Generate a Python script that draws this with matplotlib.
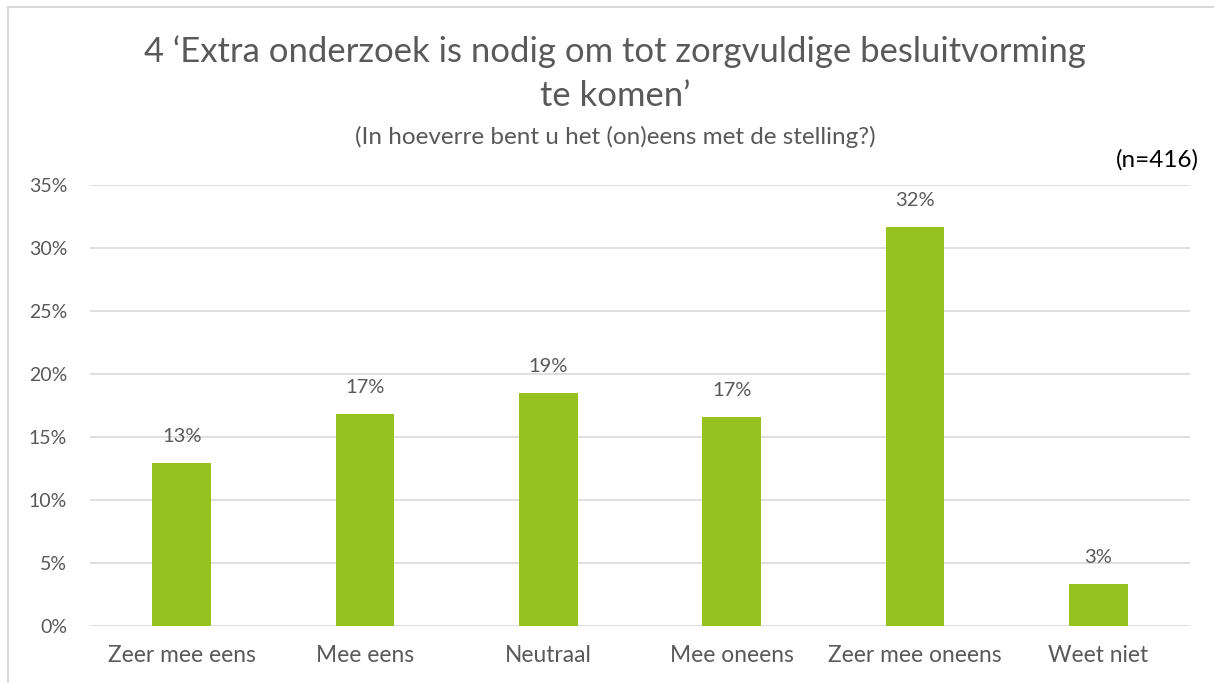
import matplotlib.pyplot as plt
from matplotlib.patches import Rectangle

categories = ['Zeer mee eens', 'Mee eens', 'Neutraal', 'Mee oneens', 'Zeer mee oneens', 'Weet niet']
values = [12.9, 16.8, 18.5, 16.6, 31.7, 3.3]
labels = ['13%', '17%', '19%', '17%', '32%', '3%']
yticks = [0, 5, 10, 15, 20, 25, 30, 35]

grey = '#595959'
green = '#97c11f'

plt.rcParams['font.family'] = ['Lato', 'DejaVu Sans']

fig = plt.figure(figsize=(12.14, 6.83), dpi=100)
ax = fig.add_axes([90/1214, 1-626/683, 1100/1214, 441/683])

x = range(len(categories))
ax.bar(x, values, width=0.32, color=green, zorder=3)
for i, (v, lab) in enumerate(zip(values, labels)):
    ax.annotate(lab, (i, v), xytext=(0, 13), textcoords='offset points',
                ha='center', va='bottom', fontsize=14.5, color=grey)

ax.set_xlim(-0.5, len(categories) - 0.5)
ax.set_ylim(0, 35)
ax.set_yticks(yticks)
ax.set_yticklabels([f'{t}%' for t in yticks])
ax.set_xticks(list(x))
ax.set_xticklabels(categories)
ax.tick_params(axis='both', length=0, colors=grey)
ax.tick_params(axis='x', pad=14, labelsize=16.4)
ax.tick_params(axis='y', pad=16.5, labelsize=14)
ax.grid(axis='y', color='#d9d9d9', linewidth=1.2, zorder=0)
for s in ax.spines.values():
    s.set_visible(False)

fig.text(615/1214, 1-52/683, '4 \u2018Extra onderzoek is nodig om tot zorgvuldige besluitvorming',
         ha='center', va='center', fontsize=24.9, color=grey)
fig.text(615/1214, 1-96/683, 'te komen\u2019', ha='center', va='center', fontsize=24.9, color=grey)
fig.text(615/1214, 1-137/683, '(In hoeverre bent u het (on)eens met de stelling?)',
         ha='center', va='center', fontsize=17.5, color=grey)
fig.text(1199/1214, 1-160/683, '(n=416)', ha='right', va='center', fontsize=17.5, color='black')

fig.patches.append(Rectangle((8/1214, -0.1), 1.2, 1 - 7/683 + 0.1, transform=fig.transFigure,
                             fill=False, edgecolor='#d9d9d9', linewidth=1.5))

fig.savefig('out.png', dpi=100)
